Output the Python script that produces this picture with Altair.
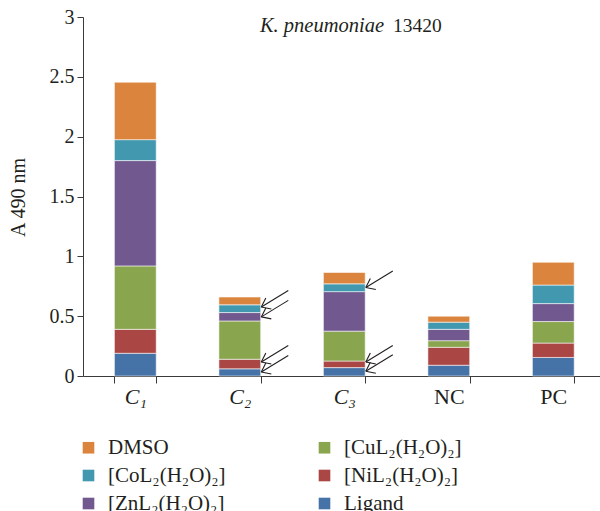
import altair as alt
import pandas as pd

# ---- data ----
categories = ["C₁", "C₂", "C₃", "NC", "PC"]
series = ["Ligand", "[NiL₂(H₂O)₂]", "[CuL₂(H₂O)₂]", "[ZnL₂(H₂O)₂]", "[CoL₂(H₂O)₂]", "DMSO"]
ligand = [0.19, 0.06, 0.07, 0.09, 0.155]
nil2 = [0.20, 0.08, 0.055, 0.15, 0.12]
cul2 = [0.53, 0.32, 0.25, 0.055, 0.18]
znl2 = [0.88, 0.07, 0.33, 0.095, 0.15]
col2 = [0.175, 0.065, 0.065, 0.06, 0.155]
dmso = [0.48, 0.065, 0.095, 0.05, 0.19]
series_colors = ["#4572A7", "#AA4643", "#89A54E", "#71588F", "#4198AF", "#DB843D"]
legend_order = ["DMSO", "[CoL₂(H₂O)₂]", "[ZnL₂(H₂O)₂]", "[CuL₂(H₂O)₂]", "[NiL₂(H₂O)₂]", "Ligand"]
y_ticks = [0, 0.5, 1, 1.5, 2, 2.5, 3]

arrow_cats = ["C₂", "C₂", "C₂", "C₂", "C₃", "C₃", "C₃"]
arrow_vals = [0.577, 0.494, 0.117, 0.033, 0.74, 0.117, 0.039]

title_italic = ["K. pneumoniae"]
title_plain = ["13420"]

# ---- tables ----
all_values = [ligand, nil2, cul2, znl2, col2, dmso]
rows = []
for s_idx, (name, vals) in enumerate(zip(series, all_values)):
    for cat, v in zip(categories, vals):
        rows.append({"cat": cat, "series": name, "value": v, "stack": s_idx})
bars_df = pd.DataFrame(rows)
arrows_df = pd.DataFrame({"cat": arrow_cats, "value": arrow_vals})

color_map = dict(zip(series, series_colors))
legend_colors = [color_map[s] for s in legend_order]

FONT = "Liberation Serif"
INK = "#231f20"
AXIS_INK = "#3a3a3a"

x_scale = alt.Scale(domain=categories, paddingInner=0.6, paddingOuter=0.2737, align=0.549)
y_scale = alt.Scale(domain=[0, 3], nice=False)

x_axis = alt.Axis(title=None, labelAngle=0, tickBand="extent", tickSize=7,
                  domainColor=AXIS_INK, tickColor=AXIS_INK,
                  labelFont=FONT, labelFontSize=22, labelColor=INK, labelPadding=3,
                  labelFontStyle=alt.condition("datum.value == 'NC' || datum.value == 'PC'",
                                               alt.value("normal"), alt.value("italic")))
y_axis = alt.Axis(values=y_ticks, format="~g", grid=False, tickSize=6,
                  domainColor=AXIS_INK, tickColor=AXIS_INK,
                  labelFont=FONT, labelFontSize=20, labelColor=INK, labelPadding=3,
                  title="A 490 nm", titleFont=FONT, titleFontSize=20, titleFontWeight="normal",
                  titleColor=INK, titleX=-65, titleY=180, titleAlign="center",
                  titleBaseline="middle", titleAngle=270)

bars = alt.Chart(bars_df).mark_bar(stroke="white", strokeWidth=0.8, strokeOpacity=0.7).encode(
    x=alt.X("cat:N", scale=x_scale, sort=categories, axis=x_axis),
    y=alt.Y("value:Q", stack="zero", scale=y_scale, axis=y_axis),
    color=alt.Color("series:N", scale=alt.Scale(domain=legend_order, range=legend_colors),
                    legend=alt.Legend(orient="none", legendX=-5, legendY=420, columns=2,
                                      title=None, symbolType="square", symbolSize=135,
                                      symbolStrokeWidth=0, labelFont=FONT, labelFontSize=21,
                                      labelColor=INK, labelOffset=9, rowPadding=6,
                                      columnPadding=88, padding=0, labelLimit=300)),
    order=alt.Order("stack:Q", sort="ascending"),
)

TIP = 21.5
rule_style = dict(color=INK, strokeWidth=1.1)
enc = dict(x=alt.X("cat:N", bandPosition=0.5, scale=x_scale, sort=categories, axis=x_axis),
           x2=alt.X2("cat", bandPosition=0.5),
           y=alt.Y("value:Q", scale=y_scale, axis=y_axis), y2=alt.Y2("value"))
shaft = alt.Chart(arrows_df).mark_rule(xOffset=TIP, x2Offset=TIP + 27, y2Offset=-16.5, **rule_style).encode(**enc)
barb1 = alt.Chart(arrows_df).mark_rule(xOffset=TIP, x2Offset=TIP + 4.5, y2Offset=-9, **rule_style).encode(**enc)
barb2 = alt.Chart(arrows_df).mark_rule(xOffset=TIP, x2Offset=TIP + 10, y2Offset=2, **rule_style).encode(**enc)

t1 = alt.Chart(pd.DataFrame({"t": title_italic})).mark_text(
    font=FONT, fontSize=20.5, fontStyle="italic", align="right", baseline="alphabetic", color=INK
).encode(x=alt.value(301), y=alt.value(15), text="t:N")
t2 = alt.Chart(pd.DataFrame({"t": title_plain})).mark_text(
    font=FONT, fontSize=19.5, align="left", baseline="alphabetic", color=INK
).encode(x=alt.value(310), y=alt.value(15), text="t:N")

chart = alt.layer(bars, shaft, barb1, barb2, t1, t2).properties(
    width=517, height=359,
    autosize=alt.AutoSizeParams(type="none"),
    padding={"left": 83, "top": 17, "right": 0, "bottom": 135},
    background="white",
).configure_view(stroke=None).configure_axis(
    labelFont=FONT, titleFont=FONT
).configure_legend(labelFont=FONT)

chart.save("out.html", embed_options={"renderer": "svg", "actions": False})
